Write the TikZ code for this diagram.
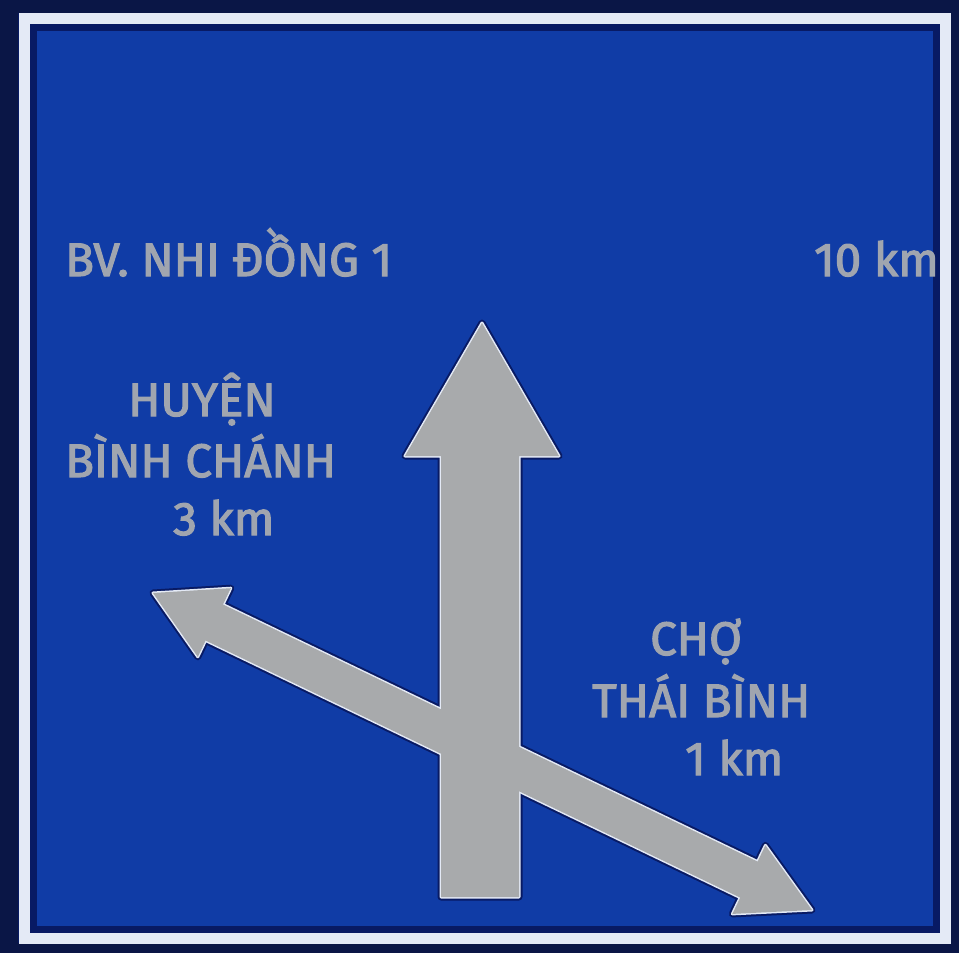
\documentclass[tikz,border=0pt]{standalone}
\usepackage{fontspec}
\setmainfont{Fira Sans}[FakeBold=2.5,FakeStretch=1.01]
\definecolor{signblue}{RGB}{16,60,166}
\definecolor{navy}{RGB}{8,26,100}
\definecolor{outer}{RGB}{10,22,70}
\definecolor{rim}{RGB}{228,234,246}
\definecolor{arrowgray}{RGB}{168,170,172}
\definecolor{textgray}{RGB}{160,165,175}
\tikzset{
  halo/.style={draw=navy,line width=7pt,line join=round},
  rimline/.style={draw=rim,line width=3pt,line join=round},
  arrowfill/.style={fill=arrowgray},
  signtext/.style={text=textgray,inner sep=0pt,anchor=base west,font=\fontsize{47}{47}\selectfont}
}
\begin{document}
\begin{tikzpicture}[x=1pt,y=-1pt]
\useasboundingbox (0,0) rectangle (959,953);
% frame
\fill[outer] (0,0) rectangle (959,953);
\fill[navy] (18,13) rectangle (950,943);
\draw[rim,line width=11pt] (24,18.5) rectangle (945,938);
\fill[signblue] (37,31) rectangle (933,926);
% arrow shapes
\def\diagarrow{(153,593) -- (230.8,588.2) -- (223.0,604.5) -- (757.6,861.6) -- (765.4,845.3) -- (812,910) -- (732.4,913.9) -- (740.2,897.6) -- (205.6,640.5) -- (197.8,656.8) -- cycle}
\def\vertarrow{(482,323) -- (559,456) -- (519,456) -- (519,897) -- (441,897) -- (441,456) -- (405,456) -- cycle}
\path[halo] \diagarrow;
\path[halo] \vertarrow;
\path[rimline] \diagarrow;
\path[rimline] \vertarrow;
\path[arrowfill] \diagarrow;
\path[arrowfill] \vertarrow;
% texts
\node[signtext] (bv) at (65,276) {BV. NHI ĐỒNG 1};
\node[signtext] (dist1) at (814,276) {10 km};
\node[signtext] (h1) at (128,416) {HUYỆN};
\node[signtext] (h2) at (65,477) {BÌNH CHÁNH};
\node[signtext] (h3) at (173,535) {3 km};
\node[signtext] (c1) at (650,655) {CHỢ};
\node[signtext] (c2) at (592,717) {THÁI BÌNH};
\node[signtext] (c3) at (685,775) {1 km};
\end{tikzpicture}
\end{document}
